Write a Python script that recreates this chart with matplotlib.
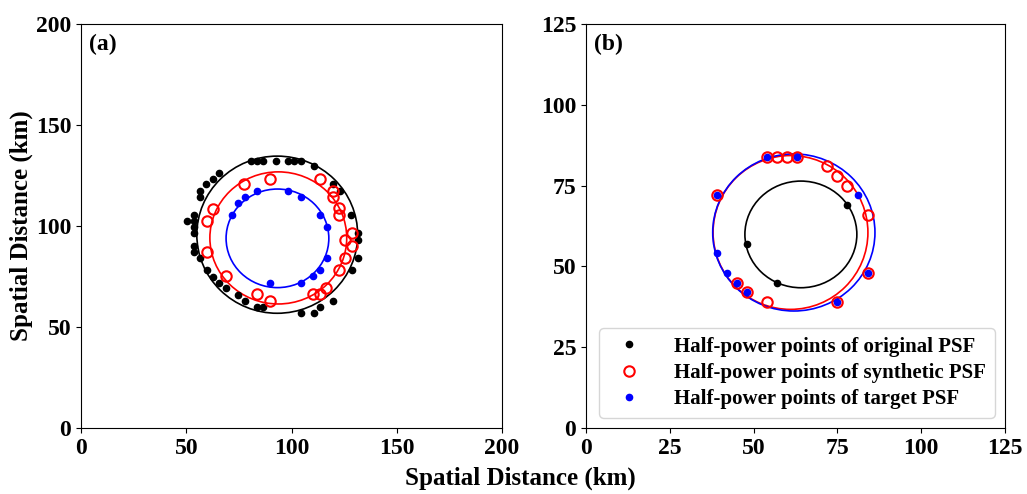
import numpy as np
import matplotlib.pyplot as plt
from matplotlib.patches import Ellipse

plt.rcParams['font.family'] = ['Liberation Serif', 'DejaVu Serif']
plt.rcParams['font.weight'] = 'bold'

# ---- panel (a) data ----
a_orig_x = [80.6, 83.8, 86.6, 92.6, 98.5, 101.2, 104.4, 110.7, 65.7, 62.6, 59.4, 56.5, 56.5,
            119.6, 123.0, 128.3, 53.7, 50.5, 53.7, 53.7, 53.7, 131.7, 131.7, 53.7, 53.7, 56.5,
            131.7, 128.6, 59.7, 62.9, 65.7, 68.9, 74.7, 77.9, 83.8, 86.6, 104.4, 110.7, 113.5, 119.6]
a_orig_y = [132.3, 132.3, 132.3, 132.3, 132.3, 132.3, 132.3, 129.7, 126.4, 123.4, 120.6, 117.5, 114.5,
            120.6, 117.5, 105.4, 105.4, 102.5, 102.5, 99.3, 96.4, 96.4, 93.1, 90.1, 87.3, 84.3,
            84.0, 78.2, 78.2, 74.9, 71.9, 69.5, 65.8, 63.0, 60.1, 60.1, 57.1, 57.1, 60.1, 63.0]
a_syn_x = [77.4, 89.8, 113.5, 119.6, 119.6, 122.7, 122.7, 62.6, 59.7, 128.6, 125.4, 128.6, 59.7,
           125.4, 122.7, 68.9, 116.4, 113.5, 110.4, 83.8, 89.8]
a_syn_y = [120.6, 123.3, 123.3, 117.5, 114.5, 108.8, 105.4, 108.3, 102.5, 96.4, 93.1, 90.1, 87.3,
           84.3, 78.2, 75.2, 69.2, 66.2, 66.2, 66.2, 63.0]
a_tgt_x = [83.8, 98.5, 104.4, 77.9, 74.7, 71.6, 113.5, 116.7, 116.7, 113.5, 110.4, 104.4, 89.8]
a_tgt_y = [117.5, 117.5, 114.5, 114.5, 111.2, 105.4, 105.4, 99.3, 84.3, 78.2, 75.2, 71.9, 71.9]
# fitted ellipses: (cx, cy, rx, ry)
a_fit_orig = (93.2, 95.7, 38.2, 38.9)
a_fit_syn = (93.7, 94.1, 32.5, 32.7)
a_fit_tgt = (93.3, 93.9, 24.4, 24.4)

# ---- panel (b) data ----
b_orig_x = [78, 48, 57]
b_orig_y = [69, 57, 45]
b_syn_x = [54, 57, 60, 63, 72, 75, 78, 84, 39, 84, 45, 48, 54, 75]
b_syn_y = [84, 84, 84, 84, 81, 78, 75, 66, 72, 48, 45, 42, 39, 39]
b_tgt_x = [54, 63, 81, 39, 39, 42, 45, 48, 84, 75]
b_tgt_y = [84, 84, 72, 72, 54, 48, 45, 42, 48, 39]
b_fit_orig = (64.1, 59.9, 16.7, 16.5)
b_fit_syn = (61.0, 60.5, 23.1, 23.8)
b_fit_tgt = (62.0, 60.5, 24.2, 24.3)

fig = plt.figure(figsize=(10.27, 4.94), dpi=100)
ax1 = fig.add_axes([0.0789, 0.1336, 0.410, 0.8178])
ax2 = fig.add_axes([0.5706, 0.1336, 0.408, 0.8178])


def draw_fit(ax, fit, color):
    cx, cy, rx, ry = fit
    ax.add_patch(Ellipse((cx, cy), 2 * rx, 2 * ry, fill=False, edgecolor=color, linewidth=1.2))


def draw_panel(ax, ox, oy, sx, sy, tx, ty, fits, lim, ticks, tag):
    for fit, c in zip(fits, ['black', 'red', 'blue']):
        draw_fit(ax, fit, c)
    ax.plot(ox, oy, 'o', color='black', markersize=4.5, linestyle='none',
            label='Half-power points of original PSF')
    ax.plot(sx, sy, 'o', markerfacecolor='none', markeredgecolor='red', markeredgewidth=1.5,
            markersize=7.5, linestyle='none', label='Half-power points of synthetic PSF')
    ax.plot(tx, ty, 'o', color='blue', markersize=4.5, linestyle='none',
            label='Half-power points of target PSF')
    ax.set_xlim(0, lim)
    ax.set_ylim(0, lim)
    ax.set_xticks(ticks)
    ax.set_yticks(ticks)
    ax.tick_params(labelsize=17)
    for lab in ax.get_xticklabels() + ax.get_yticklabels():
        lab.set_fontweight('bold')
    ax.text(0.02, 0.975, tag, transform=ax.transAxes, fontsize=17, fontweight='bold',
            va='top', ha='left')


draw_panel(ax1, a_orig_x, a_orig_y, a_syn_x, a_syn_y, a_tgt_x, a_tgt_y,
           [a_fit_orig, a_fit_syn, a_fit_tgt], 200, [0, 50, 100, 150, 200], '(a)')
draw_panel(ax2, b_orig_x, b_orig_y, b_syn_x, b_syn_y, b_tgt_x, b_tgt_y,
           [b_fit_orig, b_fit_syn, b_fit_tgt], 125, [0, 25, 50, 75, 100, 125], '(b)')

ax1.set_ylabel('Spatial Distance (km)', fontsize=18, fontweight='bold', labelpad=2)
fig.text(0.507, 0.008, 'Spatial Distance (km)', fontsize=18, fontweight='bold', ha='center', va='bottom')

ax2.legend(loc='lower right', prop={'size': 15, 'weight': 'bold'}, markerscale=1.0,
           handletextpad=1.2, borderpad=0.4, labelspacing=0.3)

fig.savefig('out.png', dpi=100)
